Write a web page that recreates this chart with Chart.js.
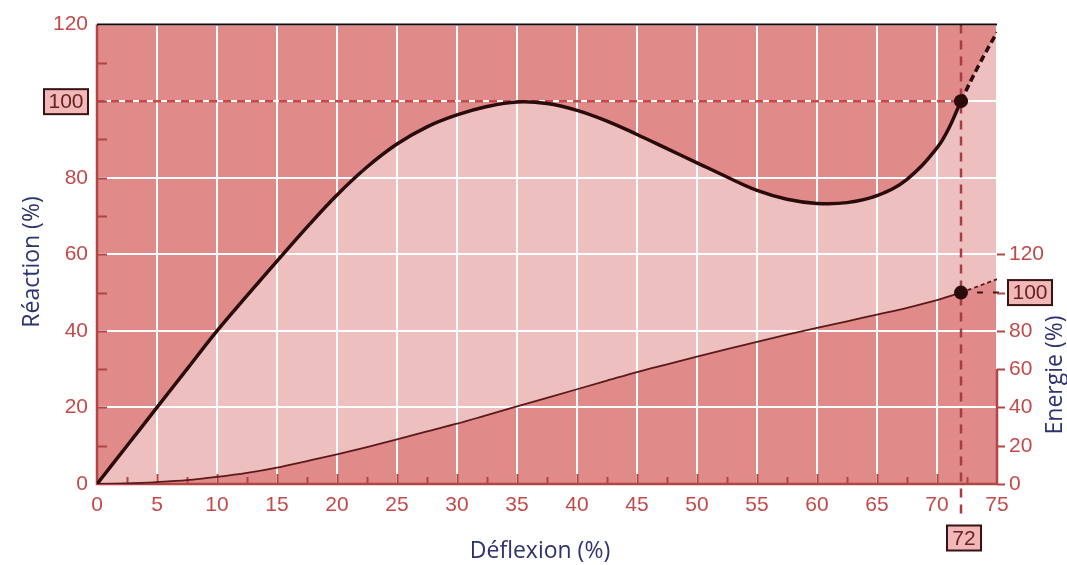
<!DOCTYPE html>
<html><head><meta charset="utf-8">
<script src="https://cdn.jsdelivr.net/npm/chart.js@4/dist/chart.umd.min.js"></script>
<style>html,body{margin:0;padding:0;background:#fff}#wrap{width:1067px;height:565px;position:relative}</style>
</head><body><div id="wrap"><canvas id="c"></canvas></div>
<script>
// ---- data ----
const deflexion = [0,2.5,5,7.5,10,12.5,15,17.5,20,22.5,25,27.5,30,32.5,35,37.5,40,42.5,45,47.5,50,52.5,55,57.5,60,62.5,65,67.5,70,71,72,73.5,75];
const reaction  = [0,10,20,30,40,49.2,58.2,67.1,75.5,82.8,88.8,93.3,96.4,98.6,99.8,99.4,97.6,94.8,91.3,87.6,83.9,80.2,76.7,74.4,73.3,73.5,75.3,79.6,87.8,93,100,109.5,118];
const energie   = [0,0.3,1,2,3.7,5.8,8.6,12,15.5,19.3,23.3,27.5,31.5,36,40.5,45,49.5,54,58.5,62.5,66.5,70.5,74.3,78,81.5,85,88.5,92,96,98,100,103.5,107];
const reactionTicks = [0,20,40,60,80,100,120];
const energieTicks = [0,20,40,60,80,100,120];
const markerX = 72, markerReaction = 100, markerEnergie = 100;

const DARK = '#e08a8a', LIGHT = 'rgba(255,255,255,0.46)';
const TICKRED = '#c24a4a', AXISRED = '#b24545', CURVE = '#2b0a0a';
const TITLE = '#2d3270';

const reacPts = deflexion.map((x,i)=>({x, y: reaction[i]}));
const enerPts = deflexion.map((x,i)=>({x, y: energie[i]}));

const dashAfter = (d) => ({ borderDash: c => c.p0.parsed.x >= markerX ? d : undefined });

function box(ctx, cx, cy, w, h, text){
  ctx.save();
  ctx.fillStyle = '#f0b8b8';
  ctx.strokeStyle = '#3a1212';
  ctx.lineWidth = 2;
  ctx.fillRect(cx-w/2, cy-h/2, w, h);
  ctx.strokeRect(cx-w/2, cy-h/2, w, h);
  ctx.fillStyle = '#6e2020';
  ctx.font = '21px "Liberation Sans", Arial, sans-serif';
  ctx.textAlign = 'center'; ctx.textBaseline = 'middle';
  ctx.fillText(text, cx, cy+1);
  ctx.restore();
}

const decor = {
  id: 'decor',
  beforeDraw(chart){
    const {ctx, chartArea:a} = chart;
    ctx.save(); ctx.fillStyle = DARK;
    ctx.fillRect(a.left, a.top, a.right-a.left, a.bottom-a.top);
    ctx.restore();
  },
  beforeDatasetsDraw(chart){
    const {ctx, chartArea:a, scales} = chart;
    const xs = scales.x, ys = scales.y, y2 = scales.y2;
    ctx.save();
    const y100 = ys.getPixelForValue(markerReaction);
    const x72 = xs.getPixelForValue(markerX);
    ctx.strokeStyle = '#c8484a'; ctx.lineWidth = 2.5; ctx.setLineDash([8,6]);
    ctx.beginPath(); ctx.moveTo(a.left, y100); ctx.lineTo(x72, y100); ctx.stroke();
    const ye = y2.getPixelForValue(markerEnergie);
    ctx.strokeStyle = '#3a1212'; ctx.lineWidth = 2; ctx.setLineDash([6,10]);
    ctx.beginPath(); ctx.moveTo(x72, ye); ctx.lineTo(a.right+8, ye); ctx.stroke();
    ctx.strokeStyle = '#a83c44'; ctx.lineWidth = 2.5; ctx.setLineDash([9,7]);
    ctx.beginPath(); ctx.moveTo(x72, a.top); ctx.lineTo(x72, a.bottom+34); ctx.stroke();
    ctx.setLineDash([]);
    ctx.strokeStyle = AXISRED; ctx.lineWidth = 2;
    for (let v = 10; v < 120; v += 10){
      const p = Math.round(ys.getPixelForValue(v))+0.5;
      ctx.beginPath(); ctx.moveTo(a.left, p); ctx.lineTo(a.left+10, p); ctx.stroke();
    }
    for (let v = 2.5; v < 75; v += 2.5){
      const p = Math.round(xs.getPixelForValue(v))+0.5;
      const len = (v % 5 === 0) ? 10 : 7;
      ctx.beginPath(); ctx.moveTo(p, a.bottom); ctx.lineTo(p, a.bottom-len); ctx.stroke();
    }
    energieTicks.forEach(v => {
      const p = Math.round(y2.getPixelForValue(v))+0.5;
      ctx.beginPath(); ctx.moveTo(a.right, p); ctx.lineTo(a.right+8, p); ctx.stroke();
    });
    ctx.lineWidth = 2.5; ctx.strokeStyle = AXISRED;
    ctx.beginPath(); ctx.moveTo(a.left, a.top); ctx.lineTo(a.left, a.bottom); ctx.lineTo(a.right, a.bottom); ctx.stroke();
    ctx.beginPath(); ctx.moveTo(a.right, a.bottom); ctx.lineTo(a.right, y2.getPixelForValue(60)); ctx.stroke();
    ctx.strokeStyle = '#1a0808'; ctx.lineWidth = 2;
    ctx.beginPath(); ctx.moveTo(a.left, a.top); ctx.lineTo(a.right, a.top); ctx.stroke();
    ctx.restore();
  },
  afterDraw(chart){
    const {ctx, scales} = chart;
    const xs = scales.x, ys = scales.y, y2 = scales.y2;
    box(ctx, 66, ys.getPixelForValue(markerReaction)+0.5, 44, 25, String(markerReaction));
    box(ctx, xs.getPixelForValue(markerX)+3, 538, 34, 25, String(markerX));
    box(ctx, 1030, y2.getPixelForValue(markerEnergie), 44, 25, String(markerEnergie));
    ctx.save();
    ctx.fillStyle = TITLE;
    ctx.font = '23px "Open Sans", "Noto Sans", sans-serif';
    ctx.textAlign = 'center'; ctx.textBaseline = 'middle';
    ctx.fillText('Déflexion (%)', 540, 551);
    ctx.save(); ctx.translate(32, 262); ctx.rotate(-Math.PI/2); ctx.fillText('Réaction (%)', 0, 0); ctx.restore();
    ctx.save(); ctx.translate(1055, 375); ctx.rotate(-Math.PI/2); ctx.fillText('Energie (%)', 0, 0); ctx.restore();
    ctx.restore();
  }
};

const tickFont = { family: '"Liberation Sans", Arial, sans-serif', size: 21 };

new Chart(document.getElementById('c'), {
  type: 'line',
  data: {
    datasets: [
      {
        label: 'Réaction', data: reacPts, yAxisID: 'y',
        borderColor: CURVE, borderWidth: 3.5, tension: 0.4,
        fill: { target: 1 }, backgroundColor: LIGHT,
        pointRadius: c => (c.raw && c.raw.x === markerX) ? 7 : 0,
        pointBackgroundColor: CURVE, pointBorderWidth: 0,
        segment: dashAfter([7,4])
      },
      {
        label: 'Energie', data: enerPts, yAxisID: 'y2',
        borderColor: '#5a1a1a', borderWidth: 1.8, cubicInterpolationMode: 'monotone',
        fill: false,
        pointRadius: c => (c.raw && c.raw.x === markerX) ? 7 : 0,
        pointBackgroundColor: CURVE, pointBorderWidth: 0,
        segment: dashAfter([4,3])
      }
    ]
  },
  options: {
    responsive: true, maintainAspectRatio: false, animation: false,
    layout: { padding: { top: 23, left: 0, right: 0, bottom: 0 } },
    plugins: { legend: { display: false }, tooltip: { enabled: false }, filler: { drawTime: 'beforeDatasetsDraw' } },
    scales: {
      x: {
        type: 'linear', min: 0, max: 75,
        afterFit: s => { s.height = 81; },
        ticks: { stepSize: 5, color: TICKRED, font: tickFont, padding: 9, maxRotation: 0, autoSkip: false },
        grid: { color: '#ffffff', lineWidth: 2, drawTicks: false },
        border: { display: false }
      },
      y: {
        position: 'left', min: 0, max: 120,
        afterFit: s => { s.width = 97; },
        afterBuildTicks: s => { s.ticks = reactionTicks.map(v => ({ value: v })); },
        ticks: { color: TICKRED, font: tickFont, padding: 9, callback: v => v === markerReaction ? '' : v },
        grid: { color: '#ffffff', lineWidth: 2, drawTicks: false },
        border: { display: false }
      },
      y2: {
        position: 'right', min: 0, max: 240,
        afterFit: s => { s.width = 70; },
        afterBuildTicks: s => { s.ticks = energieTicks.map(v => ({ value: v })); },
        ticks: { color: TICKRED, font: tickFont, padding: 12, callback: v => v === markerEnergie ? '' : v },
        grid: { display: false, drawTicks: false },
        border: { display: false }
      }
    }
  },
  plugins: [decor]
});
</script></body></html>
